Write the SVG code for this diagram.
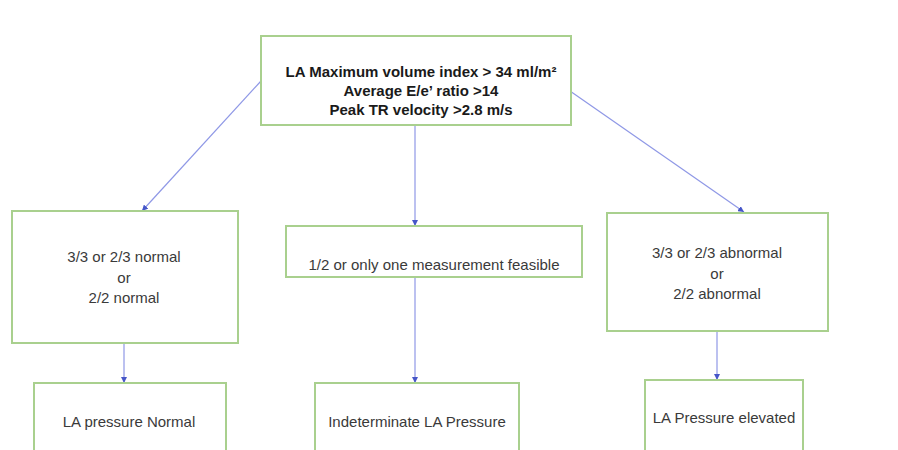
<svg xmlns="http://www.w3.org/2000/svg" width="898" height="450" viewBox="0 0 898 450">
<style>
.box{fill:#fff;stroke:#a9d08e;stroke-width:2}
.t{font-family:"Liberation Sans",Arial,sans-serif;font-size:15px;fill:#3a3a3a;text-anchor:middle}
.b{font-weight:bold;fill:#1a1a1a}
.c{stroke:#8f98e6;stroke-width:1.2;fill:none;marker-end:url(#ah)}
</style>
<defs>
<marker id="ah" viewBox="0 0 10 10" refX="10" refY="5" markerWidth="6" markerHeight="6" markerUnits="userSpaceOnUse" orient="auto">
<path d="M0,0 L10,5 L0,10 z" fill="#4656c8"/>
</marker>
</defs>
<rect width="898" height="450" fill="#fff"/>
<g id="connectors">
<line class="c" x1="261" y1="81" x2="142" y2="211"/>
<line class="c" x1="415" y1="125" x2="415" y2="226"/>
<line class="c" x1="570" y1="91" x2="744" y2="212"/>
<line class="c" x1="124" y1="343" x2="124" y2="383"/>
<line class="c" x1="415" y1="277" x2="415" y2="383"/>
<line class="c" x1="717" y1="331" x2="717" y2="380"/>
</g>
<g id="top">
<rect class="box" x="261" y="36" width="310" height="89"/>
<text class="t b" x="421" y="77">LA Maximum volume index &gt; 34 ml/m²</text>
<text class="t b" x="421" y="96">Average E/e’ ratio &gt;14</text>
<text class="t b" x="421" y="115">Peak TR velocity &gt;2.8 m/s</text>
</g>
<g id="normal">
<rect class="box" x="12" y="211" width="226" height="132"/>
<text class="t" x="124" y="262">3/3 or 2/3 normal</text>
<text class="t" x="124" y="283">or</text>
<text class="t" x="124" y="303">2/2 normal</text>
</g>
<g id="feasible">
<rect class="box" x="286" y="226" width="296" height="51"/>
<text class="t" x="434" y="270">1/2 or only one measurement feasible</text>
</g>
<g id="abnormal">
<rect class="box" x="607" y="213" width="221" height="118"/>
<text class="t" x="717" y="258">3/3 or 2/3 abnormal</text>
<text class="t" x="717" y="279">or</text>
<text class="t" x="717" y="299">2/2 abnormal</text>
</g>
<g id="la-normal">
<rect class="box" x="34" y="383" width="192" height="80"/>
<text class="t" x="129" y="427">LA pressure Normal</text>
</g>
<g id="indeterminate">
<rect class="box" x="315" y="383" width="204" height="80"/>
<text class="t" x="417" y="427">Indeterminate LA Pressure</text>
</g>
<g id="elevated">
<rect class="box" x="645" y="380" width="158" height="80"/>
<text class="t" x="724" y="423">LA Pressure elevated</text>
</g>
</svg>
